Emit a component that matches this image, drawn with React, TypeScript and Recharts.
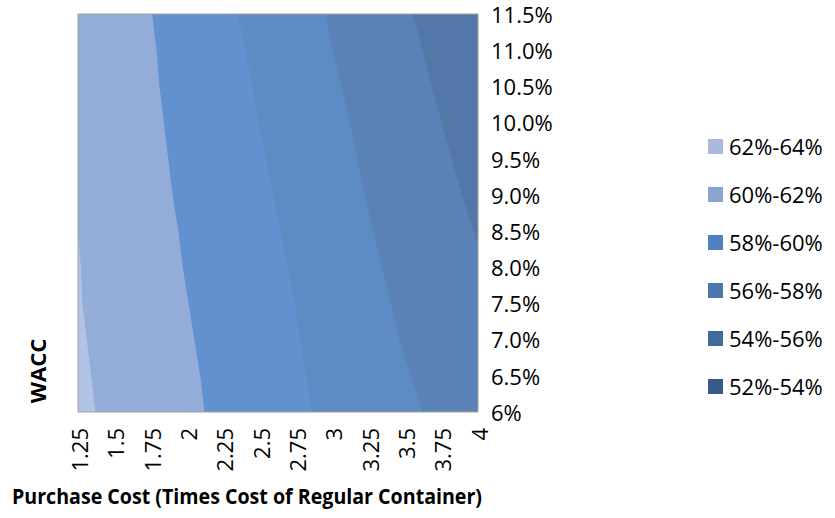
import React from "react";
import {
  ComposedChart,
  Area,
  XAxis,
  YAxis,
  ReferenceArea,
  Legend,
} from "recharts";

// WACC rows (y axis, %)
const wacc = [6, 6.5, 7, 7.5, 8, 8.5, 9, 9.5, 10, 10.5, 11, 11.5];
const waccLabels = ["6%", "6.5%", "7.0%", "7.5%", "8.0%", "8.5%", "9.0%", "9.5%", "10.0%", "10.5%", "11.0%", "11.5%"];

// purchase cost categories (x axis)
const purchaseCost = [1.25, 1.5, 1.75, 2, 2.25, 2.5, 2.75, 3, 3.25, 3.5, 3.75, 4];
const costLabels = ["1.25", "1.5", "1.75", "2", "2.25", "2.5", "2.75", "3", "3.25", "3.5", "3.75", "4"];

// contour boundaries: purchase cost where the surface crosses each level, per WACC row
const edge62 = [1.37, 1.34, 1.31, 1.28, 1.27, 1.25, 1.25, 1.25, 1.25, 1.25, 1.25, 1.25];
const edge60 = [2.12, 2.09, 2.05, 2.01, 1.97, 1.94, 1.9, 1.87, 1.84, 1.81, 1.79, 1.76];
const edge58 = [2.86, 2.82, 2.78, 2.74, 2.69, 2.64, 2.59, 2.54, 2.49, 2.45, 2.4, 2.35];
const edge56 = [3.62, 3.54, 3.46, 3.4, 3.34, 3.28, 3.22, 3.17, 3.12, 3.06, 3.0, 2.95];
const edge54 = [4, 4, 4, 4, 4.04, 3.97, 3.89, 3.82, 3.75, 3.68, 3.62, 3.55];

const bandNames = ["62%-64%", "60%-62%", "58%-60%", "56%-58%", "54%-56%", "52%-54%"];
const legendColors = ["#a9b9d9", "#8aa3cf", "#4f81bd", "#4a77ae", "#426a9d", "#375a87"];
const fillColors = ["#b2c4e6", "#94acd8", "#6192cf", "#5d8bc3", "#5a82b6", "#5378a8"];

const minCost = purchaseCost[0];
const maxCost = purchaseCost[purchaseCost.length - 1];

const data = wacc.map((w, i) => ({
  wacc: w,
  b62: [minCost, edge62[i]],
  b60: [minCost, maxCost],
  b58: [edge60[i], maxCost],
  b56: [edge58[i], maxCost],
  b54: [edge56[i], maxCost],
  b52: [edge54[i], maxCost],
}));

const FONT = "'Open Sans', sans-serif";

const CostTick = (props: any) => {
  const { x, y, payload } = props;
  const idx = purchaseCost.indexOf(payload.value);
  const tx = x + 2;
  const ty = y + 8;
  return (
    <text
      x={tx}
      y={ty}
      dy="0.355em"
      transform={`rotate(-90, ${tx}, ${ty})`}
      textAnchor="end"
      fontSize={22}
      fontFamily={FONT}
      fill="#000"
    >
      {costLabels[idx]}
    </text>
  );
};

const WaccTick = (props: any) => {
  const { x, y, payload } = props;
  const idx = wacc.indexOf(payload.value);
  return (
    <text x={x + 5} y={y + 1} dy="0.355em" textAnchor="start" fontSize={22} fontFamily={FONT} fill="#000">
      {waccLabels[idx]}
    </text>
  );
};

const BandLegend = () => (
  <div style={{ fontFamily: FONT, fontSize: 22, color: "#000" }}>
    {bandNames.map((name, i) => (
      <div key={name} style={{ height: 48, display: "flex", alignItems: "center" }}>
        <span
          style={{ width: 15, height: 15, background: legendColors[i], display: "inline-block", marginRight: 6 }}
        />
        <span style={{ lineHeight: 1 }}>{name}</span>
      </div>
    ))}
  </div>
);

export default function App() {
  return (
    <div style={{ position: "absolute", left: 0, top: 0, width: 835, height: 518, background: "#fff" }}>
      <ComposedChart
        width={835}
        height={518}
        data={data}
        layout="vertical"
        margin={{ top: 14, right: 277, bottom: 46, left: 78 }}
      >
        <XAxis
          type="number"
          dataKey="cost"
          domain={[minCost, maxCost]}
          ticks={purchaseCost}
          interval={0}
          allowDataOverflow
          axisLine={false}
          tickLine={false}
          height={60}
          tick={<CostTick />}
        />
        <YAxis
          type="number"
          dataKey="wacc"
          orientation="right"
          reversed
          domain={[6, 11.5]}
          ticks={wacc}
          interval={0}
          allowDataOverflow
          axisLine={false}
          tickLine={false}
          width={80}
          tick={<WaccTick />}
        />
        <Area dataKey="b60" name={bandNames[1]} type="linear" fill={fillColors[1]} fillOpacity={1} stroke="none" isAnimationActive={false} />
        <Area dataKey="b62" name={bandNames[0]} type="linear" fill={fillColors[0]} fillOpacity={1} stroke="none" isAnimationActive={false} />
        <Area dataKey="b58" name={bandNames[2]} type="linear" fill={fillColors[2]} fillOpacity={1} stroke="none" isAnimationActive={false} />
        <Area dataKey="b56" name={bandNames[3]} type="linear" fill={fillColors[3]} fillOpacity={1} stroke="none" isAnimationActive={false} />
        <Area dataKey="b54" name={bandNames[4]} type="linear" fill={fillColors[4]} fillOpacity={1} stroke="none" isAnimationActive={false} />
        <Area dataKey="b52" name={bandNames[5]} type="linear" fill={fillColors[5]} fillOpacity={1} stroke="none" isAnimationActive={false} />
        <ReferenceArea x1={minCost} x2={maxCost} y1={6} y2={11.5} fill="none" stroke="#a0a0a0" strokeWidth={1} ifOverflow="visible" />
        <Legend
          layout="horizontal"
          verticalAlign="middle"
          align="center"
          content={<BandLegend />}
          wrapperStyle={{ left: 708, top: 122, width: 127, height: 288 }}
        />
        <text
          x={38}
          y={371}
          transform="rotate(-90, 38, 371)"
          textAnchor="middle"
          dy="0.355em"
          fontSize={22}
          fontWeight="bold"
          fontFamily={FONT}
          fill="#000"
        >
          WACC
        </text>
        <text
          x={247}
          y={504}
          textAnchor="middle"
          fontSize={22}
          fontWeight="bold"
          fontFamily={FONT}
          fill="#000"
          textLength={470}
          lengthAdjust="spacingAndGlyphs"
        >
          Purchase Cost (Times Cost of Regular Container)
        </text>
      </ComposedChart>
    </div>
  );
}
